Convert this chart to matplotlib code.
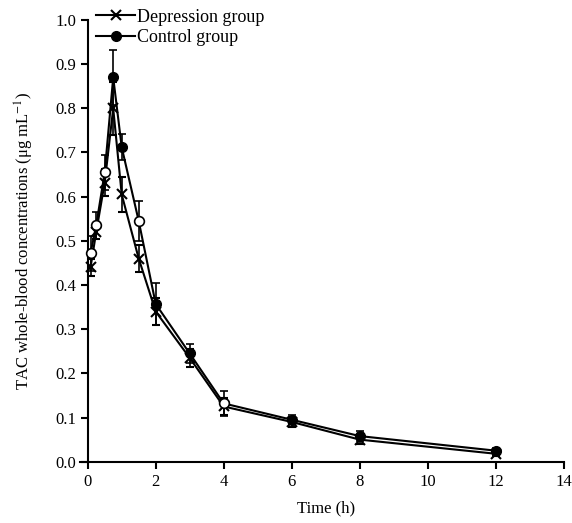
import matplotlib.pyplot as plt
from matplotlib.lines import Line2D

# Waktu sampling (jam)
time_h = [0.083, 0.25, 0.5, 0.75, 1, 1.5, 2, 3, 4, 6, 8, 12]

# Kelompok depresi: rata-rata dan SD
depresi = [0.440, 0.520, 0.632, 0.800, 0.605, 0.460, 0.340, 0.235, 0.125, 0.090, 0.050, 0.018]
depresi_sd = [0.020, 0.015, 0.030, 0.060, 0.040, 0.030, 0.030, 0.020, 0.020, 0.012, 0.010, 0.004]

# Kelompok kontrol: rata-rata dan SD
kontrol = [0.472, 0.535, 0.655, 0.870, 0.712, 0.545, 0.357, 0.245, 0.132, 0.095, 0.058, 0.025]
kontrol_sd = [0.040, 0.030, 0.040, 0.062, 0.030, 0.045, 0.048, 0.022, 0.028, 0.010, 0.012, 0.005]
kontrol_isi = [3, 4, 6, 7, 9, 10, 11]   # titik dengan marker terisi
kontrol_kosong = [0, 1, 2, 5, 8]        # titik dengan marker kosong

plt.rcParams['font.family'] = ['Liberation Serif', 'DejaVu Serif']
plt.rcParams['mathtext.fontset'] = 'stix'
plt.rcParams['font.size'] = 12

fig = plt.figure(figsize=(5.72, 5.23), dpi=100)
ax = fig.add_axes([0.1399, 0.1172, 0.8456, 0.8446])

# Kelompok depresi
ax.errorbar(time_h, depresi, yerr=depresi_sd, color='black', lw=1.5,
            marker='x', ms=7, mew=1.5, capsize=3, elinewidth=1.2,
            capthick=1.2, zorder=3)

# Kelompok kontrol
ax.errorbar(time_h, kontrol, yerr=kontrol_sd, fmt='none', ecolor='black',
            capsize=3, elinewidth=1.2, capthick=1.2, zorder=3)
ax.plot(time_h, kontrol, color='black', lw=1.5, marker='o', ms=7,
        markevery=kontrol_isi, zorder=4)
ax.plot([time_h[i] for i in kontrol_kosong], [kontrol[i] for i in kontrol_kosong],
        ls='none', marker='o', ms=7, mfc='white', mec='black', mew=1.2, zorder=5)

ax.set_xlim(-0.226, 14)
ax.set_ylim(0, 1.0)
ax.spines['left'].set_position(('data', 0))
ax.spines['left'].set_linewidth(1.5)
ax.spines['bottom'].set_linewidth(1.5)
ax.spines['top'].set_visible(False)
ax.spines['right'].set_visible(False)
ax.set_xticks(range(0, 15, 2))
ax.set_yticks([i / 10 for i in range(11)])
ax.set_yticklabels([f'{i / 10:.1f}' for i in range(11)])
ax.tick_params(direction='out', length=5, width=1.5, labelsize=12)

ax.set_xlabel('Time (h)', fontsize=12)
ax.set_ylabel('TAC whole-blood concentrations (μg mL$^{-1}$)', fontsize=12)
ax.xaxis.set_label_coords(0.508, -0.087)
ax.yaxis.set_label_coords(-0.091, 0.5)

# Legenda tanpa garis error bar
h_dep = Line2D([], [], color='black', lw=1.5, marker='x', ms=7, mew=1.5)
h_kon = Line2D([], [], color='black', lw=1.5, marker='o', ms=7)
ax.legend([h_dep, h_kon], ['Depression group', 'Control group'],
          loc='upper left', bbox_to_anchor=(0.01, 1.05), frameon=False,
          fontsize=13, handlelength=2.2, handletextpad=0.1, labelspacing=0.2,
          borderaxespad=0.2)

fig.savefig('out.png', dpi=100)
